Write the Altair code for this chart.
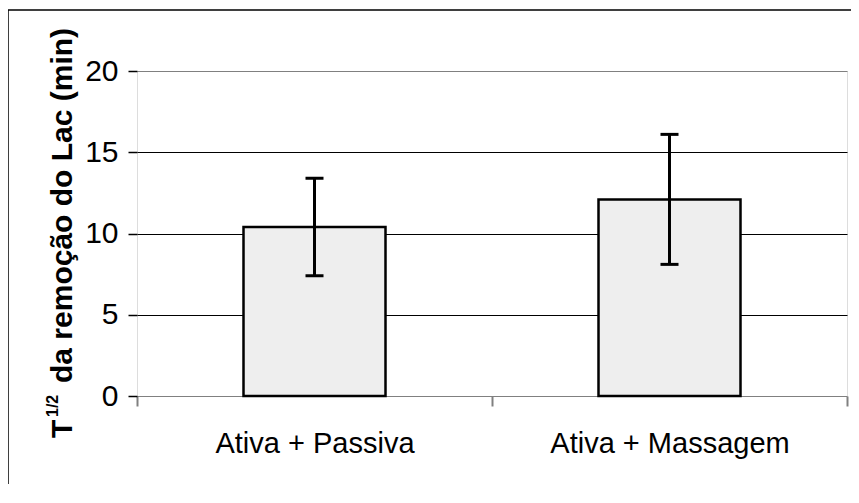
import altair as alt
import pandas as pd

categories = ["Ativa + Passiva", "Ativa + Massagem"]
means = [10.4, 12.1]
sds = [3.0, 4.0]
y_ticks = [0, 5, 10, 15, 20]
title_main = ["da remoção do Lac (min)"]
title_T = ["T"]
title_sup = ["1/2"]

df = pd.DataFrame({"cat": categories, "mean": means, "sd": sds})
df["lo"] = df["mean"] - df["sd"]
df["hi"] = df["mean"] + df["sd"]

FONT = "Liberation Sans"

x_axis = alt.Axis(
    title=None, labelAngle=0, labelFont=FONT, labelFontSize=29, labelLimit=0,
    labelColor="black", tickBand="extent", tickSize=10, tickColor="#808080",
    tickWidth=2, domain=False, labelPadding=23, grid=False,
)
x_enc = alt.X("cat:N", sort=categories,
              scale=alt.Scale(paddingInner=0, paddingOuter=0), axis=x_axis)
x_plain = alt.X("cat:N", sort=categories)

y_scale = alt.Scale(domain=[0, 20], nice=False)
y_axis = alt.Axis(
    title=None, values=y_ticks, labelFont=FONT, labelFontSize=30, labelColor="black",
    tickSize=9, tickColor="black", tickWidth=1.5, labelPadding=10, domain=False,
    grid=True,
    gridColor=alt.condition("datum.value == 0 || datum.value == 20",
                            alt.value("#808080"), alt.value("black")),
    gridWidth=1,
)

base = alt.Chart(df)
bars = base.mark_bar(width=alt.RelativeBandSize(0.4), fill="#eeeeee",
                     stroke="black", strokeWidth=2.5).encode(
    x=x_enc, y=alt.Y("mean:Q", scale=y_scale, axis=y_axis))
rules = base.mark_rule(color="black", strokeWidth=3).encode(
    x=x_plain, y="lo:Q", y2="hi:Q")
caps_hi = base.mark_tick(size=18, thickness=3, color="black", opacity=1).encode(
    x=x_plain, y="hi:Q")
caps_lo = base.mark_tick(size=18, thickness=3, color="black", opacity=1).encode(
    x=x_plain, y="lo:Q")

border = alt.Chart(pd.DataFrame({"b": [1]})).mark_rect(
    fillOpacity=0, stroke="black", strokeWidth=1.5).encode(
    x=alt.value(-129), x2=alt.value(760), y=alt.value(-61), y2=alt.value(460))

t_main = alt.Chart(pd.DataFrame({"t": title_main})).mark_text(
    angle=270, align="left", baseline="alphabetic", font=FONT, fontWeight="bold",
    fontSize=30, color="black").encode(x=alt.value(-65), y=alt.value(312), text="t:N")
t_T = alt.Chart(pd.DataFrame({"t": title_T})).mark_text(
    angle=270, align="left", baseline="alphabetic", font=FONT, fontWeight="bold",
    fontSize=30, color="black").encode(x=alt.value(-65), y=alt.value(367), text="t:N")
t_sup = alt.Chart(pd.DataFrame({"t": title_sup})).mark_text(
    angle=270, align="left", baseline="alphabetic", font=FONT, fontWeight="bold",
    fontSize=16, color="black").encode(x=alt.value(-79), y=alt.value(346), text="t:N")

chart = alt.layer(border, bars, rules, caps_hi, caps_lo, t_main, t_T, t_sup).properties(
    width=710, height=325,
    padding={"left": 129, "top": 63, "right": 4, "bottom": 88},
    autosize=alt.AutoSizeParams(type="none"),
).configure_view(stroke="#808080", strokeWidth=2.5).configure(background="white")

chart.save("out.html", embed_options={"renderer": "svg", "actions": False})
